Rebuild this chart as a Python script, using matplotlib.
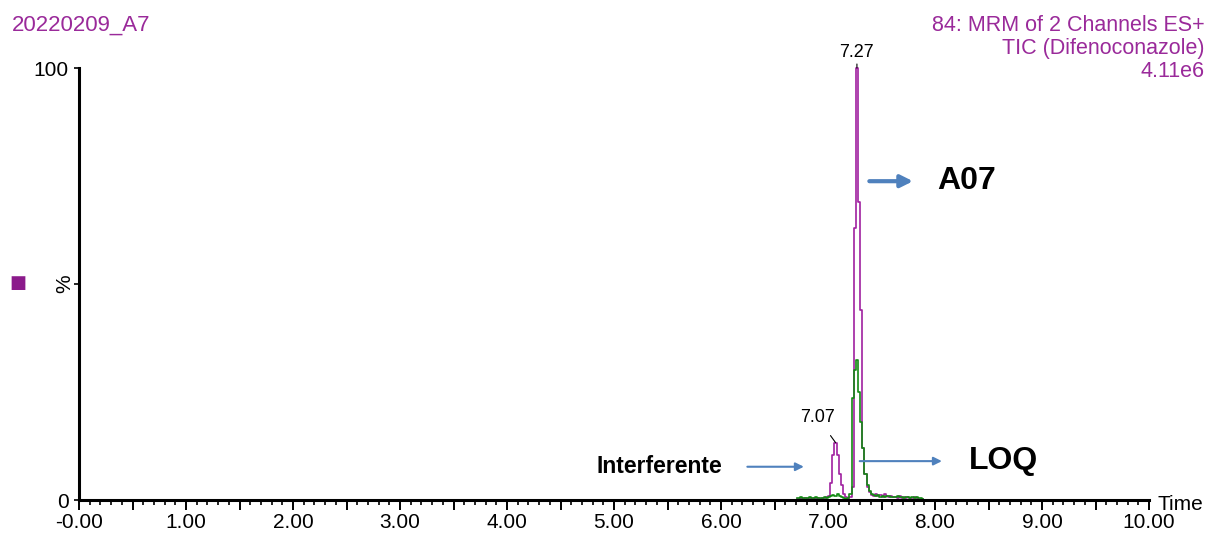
import matplotlib
matplotlib.use('Agg')
import matplotlib.pyplot as plt
from matplotlib.ticker import MultipleLocator

plt.rcParams['font.family'] = 'Liberation Sans'
plt.rcParams.update({'font.size': 15})

# retention time (min) and relative intensity (%)
times = [6.71, 6.73, 6.75, 6.77, 6.79, 6.81, 6.83, 6.85, 6.87, 6.89,
         6.91, 6.93, 6.95, 6.97, 6.99, 7.01, 7.03, 7.05, 7.07, 7.09,
         7.11, 7.13, 7.15, 7.17, 7.19, 7.21, 7.23, 7.25, 7.27, 7.29,
         7.31, 7.33, 7.35, 7.37, 7.39, 7.41, 7.43, 7.45, 7.47, 7.49,
         7.51, 7.53, 7.55, 7.57, 7.59, 7.61, 7.63, 7.65, 7.67, 7.69,
         7.71, 7.73, 7.75, 7.77, 7.79, 7.81, 7.83, 7.85, 7.87, 7.89]
tic_purple = [0.3, 0.3, 0.4, 0.3, 0.5, 0.3, 0.4, 0.3, 0.5, 0.3,
              0.4, 0.3, 0.4, 0.5, 0.6, 1.0, 4.0, 10.5, 13.3, 10.4,
              6.0, 3.5, 1.5, 0.6, 0.3, 0.8, 3.0, 63.0, 100.0, 69.0,
              44.0, 12.0, 6.0, 3.0, 1.8, 1.2, 1.0, 1.4, 0.9, 1.2,
              0.8, 1.3, 1.0, 0.7, 0.9, 0.6, 0.8, 0.5, 0.9, 0.5,
              0.6, 0.4, 0.8, 0.5, 0.4, 0.6, 0.4, 0.3, 0.3, 0.2]
tic_green = [0.5, 0.4, 0.6, 0.5, 0.4, 0.5, 0.6, 0.4, 0.5, 0.6,
             0.5, 0.4, 0.5, 0.6, 0.5, 0.8, 0.9, 1.2, 1.0, 1.3,
             1.0, 0.6, 0.4, 0.3, 0.5, 1.5, 23.6, 30.0, 32.4, 25.0,
             18.0, 12.0, 6.0, 3.5, 2.0, 1.5, 1.2, 0.9, 1.1, 0.8,
             1.0, 0.7, 0.9, 1.0, 0.6, 0.8, 0.7, 0.9, 0.6, 0.7,
             0.5, 0.8, 0.6, 0.5, 0.7, 0.5, 0.6, 0.4, 0.5, 0.3]

x_labels = ['-0.00', '1.00', '2.00', '3.00', '4.00', '5.00',
            '6.00', '7.00', '8.00', '9.00', '10.00']
y_labels = ['0', '%', '100']

peak_main = (7.27, 100.0)
peak_interf = (7.07, 13.3)

purple = '#a020a0'
text_purple = '#9a2a9a'
green = '#138a13'
arrow_blue = '#4f81bd'

fig = plt.figure(figsize=(12.08, 5.33), dpi=100)
ax = fig.add_axes([0.0654, 0.0619, 0.8858, 0.8105])

ax.plot(times, tic_purple, color=purple, lw=1.2, drawstyle='steps-mid', clip_on=False)
ax.plot(times, tic_green, color=green, lw=1.2, drawstyle='steps-mid', clip_on=False)

ax.set_xlim(0, 10)
ax.set_ylim(0, 100)
for s in ['top', 'right']:
    ax.spines[s].set_visible(False)
ax.spines['left'].set_linewidth(2.2)
ax.spines['bottom'].set_linewidth(2.2)

# x ticks: labelled every 1, long ticks every 0.5, short every 0.1
ax.xaxis.set_major_locator(MultipleLocator(0.5))
ax.xaxis.set_minor_locator(MultipleLocator(0.1))
xt = ax.get_xticks()
ax.set_xticklabels([x_labels[int(round(v))] if abs(v - round(v)) < 1e-6 else '' for v in xt])
ax.tick_params(axis='x', which='major', length=7, width=1.4, pad=2, direction='out')
ax.tick_params(axis='x', which='minor', length=3.5, width=1.2, direction='out')

ax.set_yticks([0, 50, 100])
ax.set_yticklabels(y_labels)
ax.tick_params(axis='y', length=3.5, width=1.2, pad=4)
ax.get_yticklabels()[1].set_rotation(90)
ax.get_yticklabels()[1].set_va('center')
ax.get_yticklabels()[1].set_x(0.005)

ax.text(1.008, -0.01, 'Time', transform=ax.transAxes, ha='left', va='center', fontsize=15)

# header texts
fig.text(0.01, 0.953, '20220209_A7', color=text_purple, fontsize=16, ha='left', va='center')
fig.text(0.9975, 0.953, '84: MRM of 2 Channels ES+', color=text_purple, fontsize=15.5, ha='right', va='center')
fig.text(0.9975, 0.909, 'TIC (Difenoconazole)', color=text_purple, fontsize=15.5, ha='right', va='center')
fig.text(0.9975, 0.865, '4.11e6', color=text_purple, fontsize=15.5, ha='right', va='center')

# purple square marker on the left
fig.text(0.015, 0.469, '\u25A0', color='#8b1a8b', fontsize=13, ha='center', va='center',
         family=['DejaVu Sans'])

# peak labels
ax.annotate('7.27', xy=peak_main, xytext=(0, 11), textcoords='offset points',
            ha='center', va='center', fontsize=13,
            arrowprops=dict(arrowstyle='-', color='black', lw=0.8, shrinkA=5, shrinkB=0))
ax.annotate('7.07', xy=peak_interf, xytext=(-13, 18), textcoords='offset points',
            ha='center', va='center', fontsize=13,
            arrowprops=dict(arrowstyle='-', color='black', lw=0.8, shrinkA=6, shrinkB=0))

# callouts
ax.annotate('', xy=(7.82, 73.8), xytext=(7.36, 73.8),
            arrowprops=dict(arrowstyle='-|>', color=arrow_blue, lw=3, mutation_scale=18))
ax.text(8.02, 73.8, 'A07', fontsize=23, fontweight='bold', ha='left', va='center')

ax.annotate('', xy=(8.09, 9.0), xytext=(7.27, 9.0),
            arrowprops=dict(arrowstyle='-|>', color=arrow_blue, lw=1.5, mutation_scale=12))
ax.text(8.32, 9.0, 'LOQ', fontsize=23, fontweight='bold', ha='left', va='center')

ax.annotate('', xy=(6.80, 7.7), xytext=(6.22, 7.7),
            arrowprops=dict(arrowstyle='-|>', color=arrow_blue, lw=1.5, mutation_scale=12))
ax.text(4.84, 7.7, 'Interferente', fontsize=16.5, fontweight='bold', ha='left', va='center')

plt.savefig('out.png', dpi=100)
plt.close()
